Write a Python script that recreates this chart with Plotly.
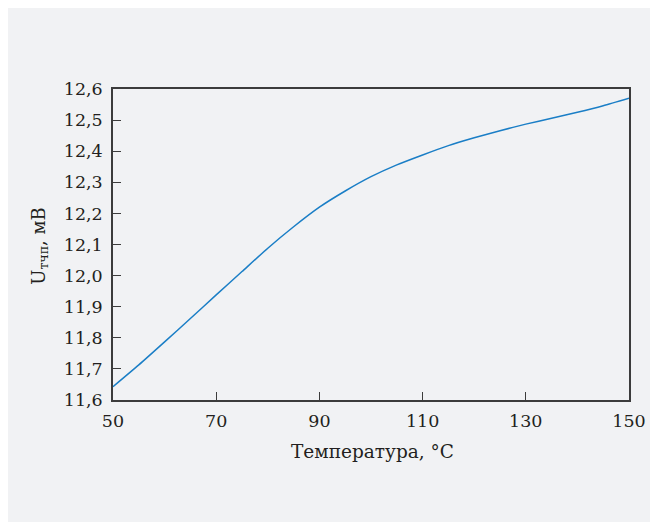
import plotly.graph_objects as go

temperature = [50, 55, 60, 65, 70, 75, 80, 85, 90, 95, 100, 105, 110, 115, 120, 125, 130, 135, 140, 145, 150]
u_tchp = [11.643, 11.713, 11.787, 11.862, 11.938, 12.013, 12.088, 12.157, 12.220, 12.272, 12.318,
          12.356, 12.388, 12.418, 12.443, 12.466, 12.487, 12.506, 12.525, 12.546, 12.570]
x_ticks = [50, 70, 90, 110, 130, 150]
y_ticks = [11.6, 11.7, 11.8, 11.9, 12.0, 12.1, 12.2, 12.3, 12.4, 12.5, 12.6]
x_title = "Температура, °С"
y_title = "U<sub>тчп</sub>, мВ"

FONT = "DejaVu Serif"
TXT = "#231f20"
AX = "#3c3c3c"
BG = "#f1f2f4"

fig = go.Figure()
fig.add_trace(go.Scatter(x=temperature, y=u_tchp, mode="lines",
                         line=dict(color="#1a7ec6", width=1.5, shape="spline", smoothing=0.6),
                         showlegend=False, hoverinfo="skip"))

fig.update_layout(
    width=650, height=514,
    margin=dict(l=105, r=25, t=81, b=122),
    paper_bgcolor=BG, plot_bgcolor=BG,
    separators=", ",
    font=dict(family=FONT, size=17.5, color=TXT),
    annotations=[
        dict(text=x_title, xref="paper", yref="paper", x=0.502, y=-0.167, showarrow=False,
             xanchor="center", yanchor="middle", font=dict(family=FONT, size=18.5, color=TXT)),
        dict(text=y_title, xref="paper", yref="paper", x=-0.142, y=0.495, showarrow=False, textangle=-90,
             xanchor="center", yanchor="middle", font=dict(family=FONT, size=18, color=TXT)),
    ],
)
fig.update_xaxes(range=[50, 150], tickvals=x_ticks, ticks="inside", ticklen=8, tickcolor=AX, tickwidth=1,
                 showline=True, linecolor=AX, linewidth=1.5, mirror=True, showgrid=False, zeroline=False,
                 ticklabelstandoff=4,
                 tickfont=dict(family=FONT, size=17.5, color=TXT))
fig.update_yaxes(range=[11.6, 12.6], tickvals=y_ticks, tickformat=".1f", ticks="inside", ticklen=8,
                 tickcolor=AX, tickwidth=1, ticklabelstandoff=5,
                 showline=True, linecolor=AX, linewidth=1.5, mirror=True, showgrid=False, zeroline=False,
                 tickfont=dict(family=FONT, size=17.5, color=TXT))

fig.write_html("out.html")
